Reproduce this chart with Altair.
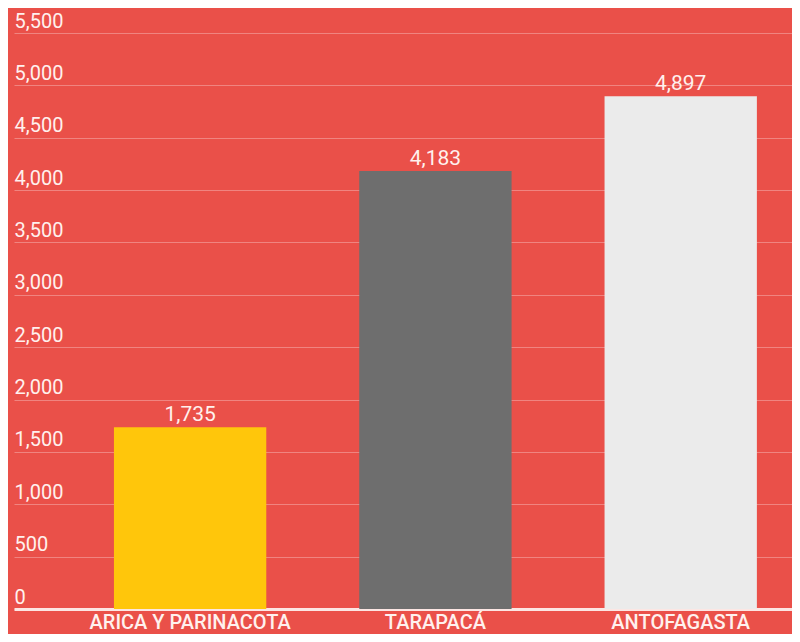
import altair as alt
import pandas as pd

regions = ["ARICA Y PARINACOTA", "TARAPACÁ", "ANTOFAGASTA"]
values = [1735, 4183, 4897]
bar_colors = ["#FFC60B", "#6E6E6E", "#EBEBEB"]
y_ticks = [0, 500, 1000, 1500, 2000, 2500, 3000, 3500, 4000, 4500, 5000, 5500]

df = pd.DataFrame({"region": regions, "value": values})

BG = "#EA5049"
TXT = "#FFF1EE"
FONT = "Roboto"

x = alt.X(
    "region:N",
    sort=regions,
    title=None,
    scale=alt.Scale(paddingInner=0.379, paddingOuter=0.2753, align=0.74),
    axis=alt.Axis(
        labelAngle=0,
        ticks=False,
        tickSize=0,
        domain=True,
        domainColor="#FCE6E3",
        domainWidth=3,
        labelColor=TXT,
        labelFont=FONT,
        labelFontSize=20,
        labelFontWeight=500,
        labelBaseline="middle",
        labelPadding=13,
        labelLimit=0,
        grid=False,
    ),
)

y = alt.Y(
    "value:Q",
    title=None,
    scale=alt.Scale(domain=[0, 5500], nice=False, zero=True),
    axis=alt.Axis(
        values=y_ticks,
        format=",.0f",
        ticks=False,
        tickSize=0,
        domain=False,
        grid=True,
        gridColor="#FFFFFF",
        gridOpacity=0.3,
        gridWidth=1,
        labelAlign="left",
        labelBaseline="alphabetic",
        labelOffset=-6,
        labelPadding=0,
        labelColor=TXT,
        labelFont=FONT,
        labelFontSize=20,
    ),
)

bars = alt.Chart(df).mark_bar().encode(
    x=x,
    y=y,
    color=alt.Color(
        "region:N",
        scale=alt.Scale(domain=regions, range=bar_colors),
        legend=None,
    ),
)

labels = alt.Chart(df).mark_text(
    baseline="alphabetic",
    dy=-6,
    font=FONT,
    fontSize=21,
    color=TXT,
).encode(
    x=alt.X("region:N", sort=regions),
    y=alt.Y("value:Q"),
    text=alt.Text("value:Q", format=",.0f"),
)

chart = (
    alt.layer(bars, labels)
    .properties(
        width=778,
        height=576,
        background=BG,
        padding={"left": 6, "top": 25, "right": 0, "bottom": 25},
        autosize=alt.AutoSizeParams(type="none"),
    )
    .configure_view(stroke=None)
)

chart.save("out.html", embed_options={"renderer": "svg", "actions": False})
